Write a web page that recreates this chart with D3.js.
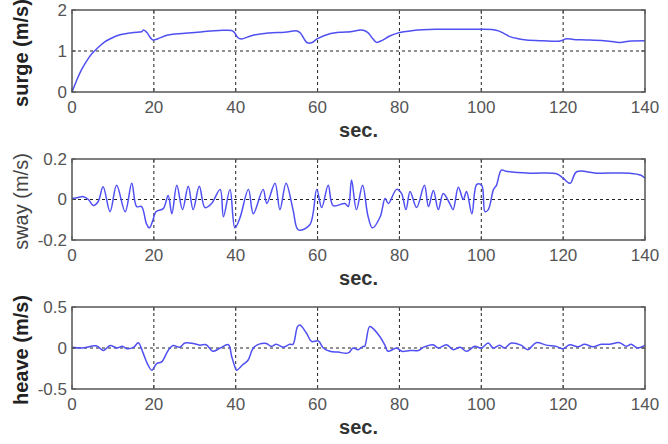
<!DOCTYPE html>
<html>
<head>
<meta charset="utf-8">
<title>surge / sway / heave</title>
<script src="https://d3js.org/d3.v7.min.js"></script>
<style>
  body { margin: 0; background: #fff; }
  svg { font-family: "Liberation Sans", Arial, sans-serif; }
  .tick-label { fill: #555; font-size: 17px; }
</style>
</head>
<body>
<div id="chart"></div>
<script>
// x axis (seconds) shared by all three plots
var xTicks = [0, 20, 40, 60, 80, 100, 120, 140];

// surge (m/s)
var surgeT = [0, 1, 2, 3, 4, 5, 6, 7, 8, 9, 10, 11, 12, 13, 14, 15, 16, 17, 17.5, 18.3, 19.2, 19.8, 21, 23, 26, 30, 33, 36, 39, 39.6, 40.5, 41.3, 44, 48, 52, 55, 55.8, 56.8, 57.5, 58.5, 60, 63, 66, 68, 70.8, 72.3, 73.5, 74.4, 75.8, 77.5, 79.3, 83.4, 89, 95, 99.7, 103, 104.2, 105.5, 107, 109, 111, 115, 119, 120.9, 122.5, 125.7, 130, 134, 136, 140];
var surgeV = [0, 0.25, 0.48, 0.66, 0.82, 0.95, 1.05, 1.14, 1.22, 1.28, 1.33, 1.37, 1.40, 1.42, 1.44, 1.45, 1.46, 1.47, 1.51, 1.45, 1.32, 1.27, 1.30, 1.38, 1.42, 1.45, 1.48, 1.50, 1.50, 1.46, 1.33, 1.29, 1.38, 1.44, 1.46, 1.49, 1.44, 1.28, 1.20, 1.20, 1.30, 1.42, 1.46, 1.47, 1.51, 1.45, 1.30, 1.21, 1.26, 1.36, 1.43, 1.50, 1.53, 1.53, 1.53, 1.52, 1.49, 1.43, 1.35, 1.30, 1.27, 1.25, 1.24, 1.30, 1.28, 1.27, 1.25, 1.21, 1.24, 1.25];

// sway (m/s)
var swayT = [0, 1.5, 2.8, 4, 5.2, 6.4, 7.6, 9.3, 10.9, 13, 14.6, 15.8, 17, 18.2, 18.9, 19.8, 20.5, 22.3, 23.5, 24.4, 25.6, 27, 28.4, 29.6, 31.1, 32.5, 34.1, 36.2, 37, 38.6, 39.8, 41, 43.1, 44.3, 46.7, 47.6, 49.6, 50.8, 52.3, 54, 55.3, 58.1, 59.8, 61, 62.6, 63.8, 66.7, 67.5, 68.3, 69.5, 71, 72.3, 73.4, 75.3, 76.5, 77.3, 79.3, 80.5, 81.6, 82.6, 84.2, 86.1, 87.1, 88.3, 89.5, 90.7, 92.3, 93.1, 94.4, 95.6, 96.4, 97.7, 98.9, 100.1, 100.9, 101.7, 103, 103.7, 104.9, 106, 111.9, 118.4, 120, 121.7, 123.3, 128.2, 136.3, 139, 140];
var swayV = [0.005, 0.01, 0.014, 0.0, -0.03, -0.01, 0.063, -0.06, 0.07, -0.06, 0.08, -0.035, -0.035, -0.12, -0.14, -0.10, -0.06, -0.045, 0.02, -0.07, 0.07, -0.05, 0.065, -0.05, 0.065, -0.04, -0.02, 0.05, -0.085, 0.05, -0.14, -0.093, 0.05, -0.07, 0.05, -0.02, 0.08, -0.05, 0.08, -0.05, -0.15, -0.125, 0.05, -0.04, 0.07, -0.03, -0.02, -0.035, 0.096, -0.05, 0.07, -0.08, -0.14, -0.085, 0.005, -0.02, 0.05, 0.03, -0.05, 0.04, -0.04, 0.07, -0.035, 0.045, -0.05, 0.03, -0.02, -0.05, 0.06, 0.0, 0.04, -0.07, 0.075, 0.07, -0.06, -0.05, 0.05, 0.07, 0.145, 0.14, 0.13, 0.127, 0.105, 0.08, 0.137, 0.13, 0.13, 0.12, 0.105];

// heave (m/s)
var heaveT = [0, 2.4, 6, 7.7, 9.3, 11, 12.3, 13.5, 15.1, 16.2, 17.4, 18.6, 19.5, 20.7, 21.9, 23.5, 24.7, 26.3, 27.6, 29.6, 31.2, 32.8, 34.4, 36.2, 38.2, 39, 39.8, 40.2, 41.8, 43, 44.3, 45.9, 47.5, 48.7, 49.9, 51.6, 53.2, 54, 55.1, 55.7, 57.3, 58.5, 60.2, 61.4, 63, 65, 67.5, 68.7, 69.9, 71.1, 71.5, 72.7, 73.5, 75.2, 76.4, 77.2, 79.3, 80.6, 82.6, 84.6, 85.9, 88.2, 89.5, 91.5, 93.2, 94.8, 96.4, 98.4, 100, 101.7, 102.9, 104.5, 105.7, 107.3, 109.7, 111.4, 113.4, 115.9, 118.3, 120, 121.6, 123.6, 125.2, 127.3, 129.3, 131.3, 133.8, 135.4, 136.6, 138.2, 140];
var heaveV = [0.01, 0.0, 0.025, -0.03, 0.03, 0.0, 0.02, -0.01, 0.01, 0.065, -0.065, -0.21, -0.27, -0.19, -0.17, -0.03, 0.03, 0.01, 0.06, 0.055, 0.035, 0.04, -0.04, 0.0, 0.04, -0.1, -0.23, -0.27, -0.2, -0.15, 0.0, 0.05, 0.055, 0.02, 0.045, 0.01, 0.045, 0.045, 0.26, 0.28, 0.18, 0.08, 0.085, 0.0, -0.04, -0.05, -0.06, 0.0, -0.02, 0.02, 0.02, 0.26, 0.24, 0.14, 0.04, -0.04, 0.0, -0.04, -0.03, -0.03, 0.01, 0.04, 0.0, 0.04, -0.02, 0.01, -0.04, 0.02, 0.0, 0.06, 0.0, 0.035, 0.0, 0.06, 0.035, -0.02, 0.065, 0.035, 0.02, -0.01, 0.04, 0.015, 0.045, 0.015, 0.045, 0.045, 0.065, 0.02, 0.045, 0.0, 0.035];

var surgeTicks = [0, 1, 2];
var swayTicks = [-0.2, 0, 0.2];
var heaveTicks = [-0.5, 0, 0.5];

var width = 668, height = 444;
var left = 72, right = 645;

var svg = d3.select("#chart").append("svg")
    .attr("width", width)
    .attr("height", height);

svg.append("rect").attr("width", width).attr("height", height).attr("fill", "#fff");

var x = d3.scaleLinear().domain([0, 140]).range([left, right]);

// one entry per subplot
var panels = [
  {label: "surge (m/s)", bold: true,  top: 10,  bottom: 92,  ticks: surgeTicks, t: surgeT, v: surgeV},
  {label: "sway (m/s)",  bold: false, top: 159, bottom: 240, ticks: swayTicks,  t: swayT,  v: swayV},
  {label: "heave (m/s)", bold: true,  top: 307, bottom: 389, ticks: heaveTicks, t: heaveT, v: heaveV}
];

panels.forEach(function(p) {
  var y = d3.scaleLinear()
      .domain([p.ticks[0], p.ticks[p.ticks.length - 1]])
      .range([p.bottom, p.top]);
  var g = svg.append("g");

  // grid lines (dotted, matlab style)
  g.selectAll(".vgrid")
    .data(xTicks.slice(1, -1))
    .enter().append("line")
      .attr("x1", function(d) { return x(d); })
      .attr("x2", function(d) { return x(d); })
      .attr("y1", p.top).attr("y2", p.bottom)
      .attr("stroke", "#222").attr("stroke-width", 1)
      .attr("stroke-dasharray", "3,3");
  g.selectAll(".hgrid")
    .data(p.ticks.slice(1, -1))
    .enter().append("line")
      .attr("x1", left).attr("x2", right)
      .attr("y1", function(d) { return y(d); })
      .attr("y2", function(d) { return y(d); })
      .attr("stroke", "#222").attr("stroke-width", 1)
      .attr("stroke-dasharray", "3,3");

  // data line
  var pts = p.t.map(function(t, i) { return [t, p.v[i]]; });
  g.append("path")
    .datum(pts)
    .attr("fill", "none")
    .attr("stroke", "#5050f2")
    .attr("stroke-width", 1.5)
    .attr("stroke-linejoin", "round")
    .attr("d", d3.line()
      .x(function(d) { return x(d[0]); })
      .y(function(d) { return y(d[1]); })
      .curve(d3.curveCatmullRom.alpha(0.5)));

  // inward ticks
  g.selectAll(".xt")
    .data(xTicks)
    .enter().append("path")
      .attr("d", function(d) {
        return "M" + x(d) + "," + p.bottom + "v-4M" + x(d) + "," + p.top + "v4";
      })
      .attr("stroke", "#444");
  g.selectAll(".yt")
    .data(p.ticks)
    .enter().append("path")
      .attr("d", function(d) {
        return "M" + left + "," + y(d) + "h4M" + right + "," + y(d) + "h-4";
      })
      .attr("stroke", "#444");

  // box
  g.append("rect")
    .attr("x", left).attr("y", p.top)
    .attr("width", right - left).attr("height", p.bottom - p.top)
    .attr("fill", "none")
    .attr("stroke", "#555")
    .attr("stroke-width", 1.5);

  // tick labels
  g.selectAll(".xl")
    .data(xTicks)
    .enter().append("text")
      .attr("class", "tick-label")
      .attr("x", function(d) { return x(d); })
      .attr("y", p.bottom + 21)
      .attr("text-anchor", "middle")
      .text(function(d) { return d; });
  g.selectAll(".yl")
    .data(p.ticks)
    .enter().append("text")
      .attr("class", "tick-label")
      .attr("x", left - 5)
      .attr("y", function(d) { return y(d); })
      .attr("dy", "0.35em")
      .attr("text-anchor", "end")
      .text(function(d) { return d; });

  // axis titles
  g.append("text")
    .attr("x", (left + right) / 2)
    .attr("y", p.bottom + 45)
    .attr("text-anchor", "middle")
    .attr("font-size", 20)
    .attr("font-weight", "bold")
    .attr("fill", "#333")
    .text("sec.");
  g.append("text")
    .attr("transform", "translate(28," + ((p.top + p.bottom) / 2 + 2) + ") rotate(-90)")
    .attr("text-anchor", "middle")
    .attr("font-size", 20)
    .attr("font-weight", p.bold ? "bold" : "normal")
    .attr("fill", p.bold ? "#222" : "#444")
    .text(p.label);
});
</script>
</body>
</html>
